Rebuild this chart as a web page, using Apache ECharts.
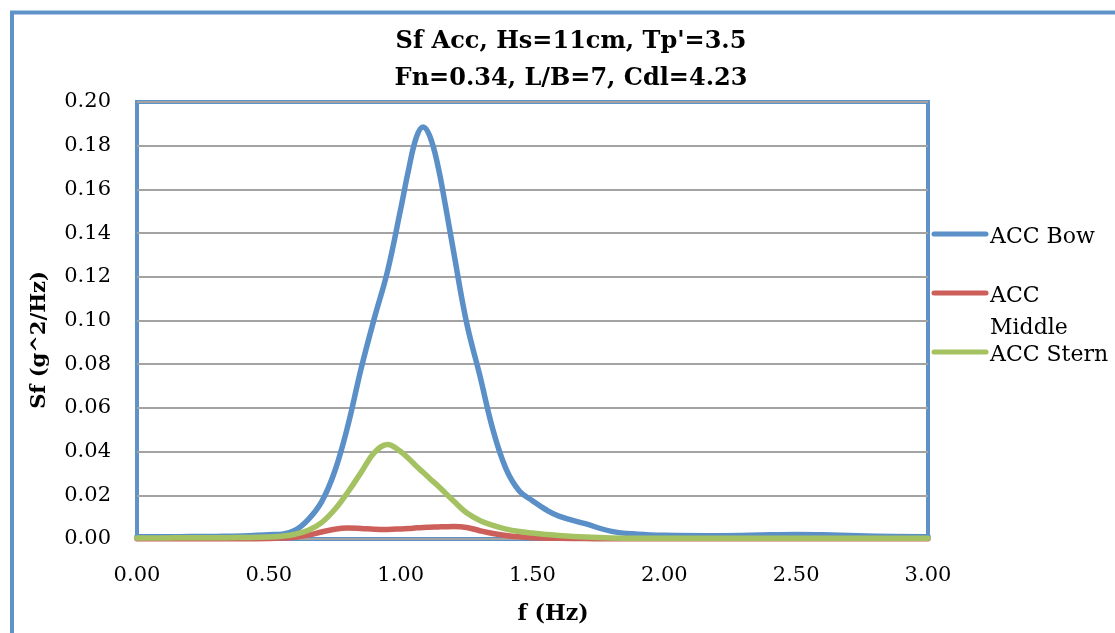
<!DOCTYPE html>
<html>
<head>
<meta charset="utf-8">
<script src="https://cdn.jsdelivr.net/npm/echarts@6/dist/echarts.min.js"></script>
<style>
  html, body { margin: 0; padding: 0; background: #ffffff; }
  #chart { width: 1115px; height: 633px; }
</style>
</head>
<body>
<div id="chart"></div>
<script>
// Spectral density of acceleration at three hull positions
const titleLines = ["Sf Acc, Hs=11cm, Tp'=3.5", "Fn=0.34, L/B=7, Cdl=4.23"];
const xAxisName = 'f (Hz)';
const yAxisName = 'Sf (g^2/Hz)';

const freq = [0, 0.1, 0.2, 0.3, 0.4, 0.5, 0.55, 0.6, 0.65, 0.7, 0.75, 0.8, 0.85, 0.9, 0.95,
  1.0, 1.03, 1.06, 1.085, 1.11, 1.14, 1.17, 1.2, 1.25, 1.3, 1.35, 1.4, 1.45, 1.5, 1.55, 1.6,
  1.7, 1.8, 1.9, 2.0, 2.2, 2.4, 2.5, 2.6, 2.8, 3.0];

const accBow = [0.0010, 0.0010, 0.0011, 0.0012, 0.0014, 0.0020, 0.0022, 0.0040, 0.0090, 0.0170,
  0.0310, 0.0520, 0.0780, 0.1010, 0.1225, 0.1510, 0.1690, 0.1840, 0.1886, 0.1845, 0.1715,
  0.1525, 0.1320, 0.0990, 0.0750, 0.0500, 0.0320, 0.0220, 0.0175, 0.0135, 0.0105, 0.0070,
  0.0035, 0.0022, 0.0017, 0.0015, 0.0019, 0.0021, 0.0019, 0.0013, 0.0010];

const accMiddle = [0.0001, 0.0001, 0.0001, 0.0001, 0.0001, 0.0002, 0.0004, 0.0008, 0.0018, 0.0032,
  0.0045, 0.0050, 0.0048, 0.0045, 0.0044, 0.0046, 0.0048, 0.0051, 0.0053, 0.0054, 0.0055,
  0.0056, 0.0057, 0.0053, 0.0038, 0.0025, 0.0016, 0.0010, 0.0006, 0.0004, 0.0003, 0.0002,
  0.0001, 0.0001, 0.0001, 0.0001, 0.0001, 0.0001, 0.0001, 0.0001, 0.0001];

const accStern = [0.0005, 0.0005, 0.0006, 0.0006, 0.0007, 0.0009, 0.0013, 0.0022, 0.0040, 0.0075,
  0.0135, 0.0215, 0.0305, 0.0395, 0.0433, 0.0400, 0.0368, 0.0333, 0.0305, 0.0277, 0.0245,
  0.0210, 0.0175, 0.0120, 0.0085, 0.0062, 0.0045, 0.0034, 0.0027, 0.0021, 0.0016, 0.0009,
  0.0005, 0.0004, 0.0004, 0.0004, 0.0004, 0.0004, 0.0004, 0.0004, 0.0004];

const seriesNames = ['ACC Bow', 'ACC Middle', 'ACC Stern'];
const seriesValues = [accBow, accMiddle, accStern];
const seriesColors = ['#5B8FC8', '#CC5F5A', '#A5C263'];
// legend labels as they wrap in the narrow legend column
const legendLabels = ['ACC Bow', 'ACC\nMiddle', 'ACC Stern'];

const FONT = '"DejaVu Serif", "Liberation Serif", serif';
const FRAME = '#5F93C8';

const chart = echarts.init(document.getElementById('chart'), null, { renderer: 'canvas' });

const series = seriesNames.map((name, k) => ({
  name: name,
  type: 'line',
  data: freq.map((f, i) => [f, seriesValues[k][i]]),
  showSymbol: false,
  symbol: 'none',
  smooth: 0.4,
  clip: false,
  lineStyle: { color: seriesColors[k], width: 5.5, cap: 'round', join: 'round' },
  itemStyle: { color: seriesColors[k] },
  z: 3 + k
}));

// legend column at right of the plot
const legendTop = 234, legendStep = 59;
const legendGraphics = [];
seriesNames.forEach((name, k) => {
  const cy = legendTop + legendStep * k;
  legendGraphics.push({
    type: 'line',
    shape: { x1: 934, y1: cy, x2: 986, y2: cy },
    style: { stroke: seriesColors[k], lineWidth: 5, lineCap: 'round' }
  });
  legendGraphics.push({
    type: 'text',
    x: 990, y: cy - 13,
    style: {
      text: legendLabels[k], font: '22px ' + FONT, fill: '#000',
      textAlign: 'left', textVerticalAlign: 'top', lineHeight: 32
    }
  });
});

const option = {
  animation: false,
  backgroundColor: '#ffffff',
  title: {
    text: titleLines.join('\n'),
    left: 566, top: 18,
    textAlign: 'center',
    textStyle: { fontFamily: FONT, fontSize: 24, fontWeight: 'bold', color: '#000', lineHeight: 37 }
  },
  grid: {
    left: 137, right: 187, top: 102, bottom: 94,
    show: true, borderColor: FRAME, borderWidth: 4, backgroundColor: '#fff'
  },
  xAxis: {
    type: 'value', min: 0, max: 3, interval: 0.5,
    axisLine: { show: false },
    axisTick: { show: false },
    splitLine: { show: false },
    axisLabel: {
      margin: 26, color: '#000', fontFamily: FONT, fontSize: 21,
      formatter: v => v.toFixed(2)
    }
  },
  yAxis: {
    type: 'value', min: 0, max: 0.2, interval: 0.02,
    axisLine: { show: false },
    axisTick: { show: false },
    splitLine: { show: true, lineStyle: { color: '#A3A3A3', width: 2 } },
    axisLabel: {
      margin: 26, color: '#000', fontFamily: FONT, fontSize: 21,
      formatter: v => v.toFixed(2)
    }
  },
  series: series,
  graphic: [
    // outer chart border
    {
      type: 'rect', silent: true, z: -1,
      shape: { x: 12, y: 12.5, width: 1200, height: 700 },
      style: { fill: 'none', stroke: FRAME, lineWidth: 4 }
    },
    {
      type: 'text', x: 553, y: 614,
      style: { text: xAxisName, font: 'bold 22px ' + FONT, fill: '#000',
        textAlign: 'center', textVerticalAlign: 'middle' }
    },
    {
      type: 'text', x: 40, y: 340, rotation: Math.PI / 2,
      style: { text: yAxisName, font: 'bold 21px ' + FONT, fill: '#000',
        textAlign: 'center', textVerticalAlign: 'middle' }
    }
  ].concat(legendGraphics)
};

chart.setOption(option);
</script>
</body>
</html>
